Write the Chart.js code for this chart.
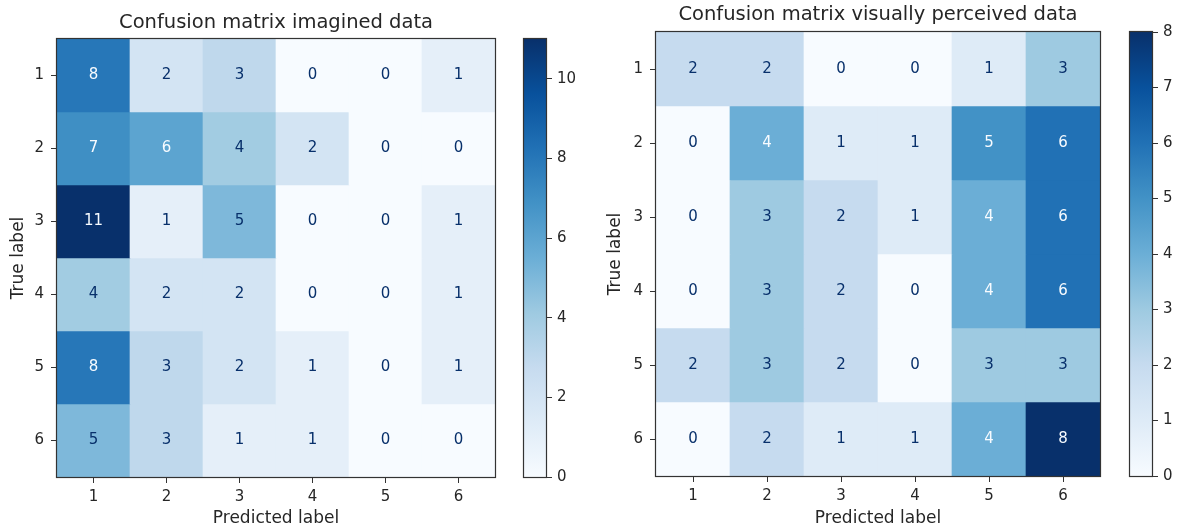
<!DOCTYPE html>
<html>
<head>
<meta charset="utf-8">
<script src="https://cdn.jsdelivr.net/npm/chart.js@4.4.1/dist/chart.umd.min.js"></script>
<style>
  html, body { margin: 0; padding: 0; background: #fff; }
  body { width: 1180px; height: 531px; position: relative; overflow: hidden; }
  canvas { position: absolute; top: 0; }
</style>
</head>
<body>
<canvas id="cmLeft" width="520" height="531" style="left:0"></canvas>
<canvas id="cbLeft" width="80" height="531" style="left:500px"></canvas>
<canvas id="cmRight" width="530" height="531" style="left:590px"></canvas>
<canvas id="cbRight" width="70" height="531" style="left:1110px"></canvas>
<script>
// labels
const predLabels = ["1", "2", "3", "4", "5", "6"];
const trueLabels = ["1", "2", "3", "4", "5", "6"];

// imagined data (rows = true label, cols = predicted label)
const imaginedCounts = [
  [8, 2, 3, 0, 0, 1],
  [7, 6, 4, 2, 0, 0],
  [11, 1, 5, 0, 0, 1],
  [4, 2, 2, 0, 0, 1],
  [8, 3, 2, 1, 0, 1],
  [5, 3, 1, 1, 0, 0]
];
const imaginedMax = 11;
const imaginedTicks = [0, 2, 4, 6, 8, 10];

// visually perceived data
const perceivedCounts = [
  [2, 2, 0, 0, 1, 3],
  [0, 4, 1, 1, 5, 6],
  [0, 3, 2, 1, 4, 6],
  [0, 3, 2, 0, 4, 6],
  [2, 3, 2, 0, 3, 3],
  [0, 2, 1, 1, 4, 8]
];
const perceivedMax = 8;
const perceivedTicks = [0, 1, 2, 3, 4, 5, 6, 7, 8];

Chart.defaults.font.family = '"DejaVu Sans", sans-serif';
Chart.defaults.color = "#262626";

// matplotlib "Blues"
const BLUES = ["#f7fbff", "#deebf7", "#c6dbef", "#9ecae1", "#6baed6", "#4292c6", "#2171b5", "#08519c", "#08306b"];
function hexRgb(h) {
  return [1, 3, 5].map(i => parseInt(h.substr(i, 2), 16));
}
function blues(t) {
  t = Math.max(0, Math.min(1, t));
  const p = t * 8;
  const i = Math.min(7, Math.floor(p));
  const f = p - i;
  const a = hexRgb(BLUES[i]), b = hexRgb(BLUES[i + 1]);
  const c = a.map((v, k) => Math.round(v + (b[k] - v) * f));
  return `rgb(${c[0]},${c[1]},${c[2]})`;
}

// box around the plot area
const framePlugin = {
  id: "frame",
  afterDatasetsDraw(chart) {
    const { ctx, chartArea: a } = chart;
    ctx.save();
    ctx.strokeStyle = "#333";
    ctx.lineWidth = 1.2;
    ctx.strokeRect(a.left - 0.5, a.top - 0.5, a.right - a.left + 1, a.bottom - a.top + 1);
    ctx.restore();
  }
};

// numbers inside the cells
const cellText = {
  id: "cellText",
  afterDatasetsDraw(chart, args, opts) {
    const ctx = chart.ctx;
    ctx.save();
    ctx.font = '15px "DejaVu Sans"';
    ctx.textAlign = "center";
    ctx.textBaseline = "middle";
    chart.data.datasets.forEach((ds, i) => {
      chart.getDatasetMeta(i).data.forEach((bar, j) => {
        const v = ds.counts[j];
        const p = bar.getProps(["x", "y", "base"], true);
        ctx.fillStyle = v >= opts.vmax / 2 ? BLUES[0] : BLUES[8];
        ctx.fillText(String(v), p.x, (p.y + p.base) / 2);
      });
    });
    ctx.restore();
  }
};

function makeMatrix(id, counts, vmax, title, g) {
  new Chart(document.getElementById(id), {
    type: "bar",
    data: {
      labels: predLabels,
      datasets: counts.map((row, r) => ({
        data: predLabels.map(() => [r + 0.5, r + 1.5]),
        counts: row,
        backgroundColor: row.map(v => blues(v / vmax)),
        borderWidth: 0,
        barPercentage: 1,
        categoryPercentage: 1,
        grouped: false
      }))
    },
    options: {
      responsive: false,
      animation: false,
      layout: { padding: { left: 0, right: g.padRight, top: 0, bottom: 0 } },
      plugins: {
        legend: { display: false },
        tooltip: { enabled: false },
        title: {
          display: true,
          text: title,
          fullSize: false,
          color: "#262626",
          font: { size: 19.5, weight: "normal" },
          padding: g.titlePad
        },
        cellText: { vmax: vmax }
      },
      scales: {
        x: {
          offset: true,
          grid: { drawOnChartArea: false, offset: false, tickLength: 6, color: "#333" },
          border: { display: false },
          ticks: { padding: 5, font: { size: 15 } },
          title: { display: true, text: "Predicted label", font: { size: 17 }, padding: { top: 0, bottom: 1.8 } },
          afterFit: s => { s.height = g.xHeight; }
        },
        y: {
          type: "linear",
          min: 0.5,
          max: 6.5,
          reverse: true,
          afterBuildTicks: s => { s.ticks = trueLabels.map((_, i) => ({ value: i + 1 })); },
          grid: { drawOnChartArea: false, tickLength: 6, color: "#333" },
          border: { display: false },
          ticks: { padding: 7, font: { size: 15 }, callback: v => trueLabels[v - 1] },
          title: { display: true, text: "True label", font: { size: 17 }, padding: { top: g.yTitlePad, bottom: 0 } },
          afterFit: s => { s.width = g.yWidth; }
        }
      }
    },
    plugins: [cellText, framePlugin]
  });
}

function makeColorbar(id, vmax, ticks, g) {
  new Chart(document.getElementById(id), {
    type: "bar",
    data: {
      labels: [""],
      datasets: [{
        data: [[0, vmax]],
        backgroundColor: c => {
          const a = c.chart.chartArea;
          if (!a) return BLUES[4];
          const grad = c.chart.ctx.createLinearGradient(0, a.bottom, 0, a.top);
          BLUES.forEach((col, i) => grad.addColorStop(i / 8, col));
          return grad;
        },
        borderWidth: 0,
        barPercentage: 1,
        categoryPercentage: 1
      }]
    },
    options: {
      responsive: false,
      animation: false,
      layout: { padding: { left: g.padLeft, right: 0, top: g.top, bottom: g.bottom } },
      plugins: { legend: { display: false }, tooltip: { enabled: false } },
      scales: {
        x: { display: false },
        y: {
          position: "right",
          min: 0,
          max: vmax,
          afterBuildTicks: s => { s.ticks = ticks.map(v => ({ value: v })); },
          grid: { drawOnChartArea: false, tickLength: 6, color: "#333" },
          border: { display: false },
          ticks: { padding: 5, font: { size: 15 } },
          afterFit: s => { s.width = g.yWidth; }
        }
      }
    },
    plugins: [framePlugin]
  });
}

makeMatrix("cmLeft", imaginedCounts, imaginedMax, "Confusion matrix imagined data",
  { padRight: 25, yWidth: 57, xHeight: 54, titlePad: { top: 11.3, bottom: 4.3 }, yTitlePad: 8.3 });
makeColorbar("cbLeft", imaginedMax, imaginedTicks, { padLeft: 24, yWidth: 34, top: 39, bottom: 54 });

makeMatrix("cmRight", perceivedCounts, perceivedMax, "Confusion matrix visually perceived data",
  { padRight: 20, yWidth: 66, xHeight: 55, titlePad: { top: 3.3, bottom: 5.3 }, yTitlePad: 15.8 });
makeColorbar("cbRight", perceivedMax, perceivedTicks, { padLeft: 20, yWidth: 28, top: 32, bottom: 55 });
</script>
</body>
</html>
